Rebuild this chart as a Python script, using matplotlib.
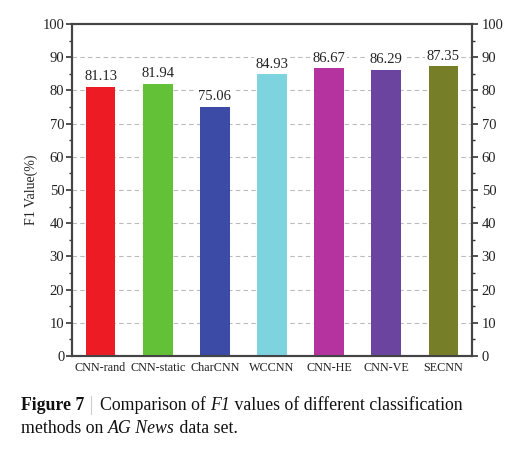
import numpy as np
import matplotlib
matplotlib.use("Agg")
import matplotlib.pyplot as plt
from matplotlib.ticker import MultipleLocator

methods = ['CNN-rand', 'CNN-static', 'CharCNN', 'WCCNN', 'CNN-HE', 'CNN-VE', 'SECNN']
f1_values = [81.13, 81.94, 75.06, 84.93, 86.67, 86.29, 87.35]
bar_colors = ['#ED1C24', '#62C136', '#3B4BA6', '#7DD4DF', '#B5339E', '#6A449E', '#767F27']

plt.rcParams['font.family'] = ['Liberation Serif', 'DejaVu Serif']

fig = plt.figure(figsize=(5.08, 4.5), dpi=100)
ax = fig.add_axes([72/508, 1 - 356/450, 400/508, 332/450])

x = np.arange(len(methods))
bars = ax.bar(x, f1_values, width=0.52, color=bar_colors, zorder=3)
for rect, v in zip(bars, f1_values):
    ax.annotate('{:.2f}'.format(v),
                xy=(rect.get_x() + rect.get_width() / 2, v),
                xytext=(0, 2.5), textcoords="offset points",
                ha='center', va='bottom', fontsize=10.5, color='#222222', zorder=4,
                bbox=dict(boxstyle='square,pad=0.1', fc='white', ec='none'))

ax.set_xlim(-0.5, len(methods) - 0.5)
ax.set_ylim(0, 100)
ax.set_xticks(x)
ax.set_xticklabels(methods, fontsize=8.7, color='#222222')
ax.tick_params(axis='x', length=0, pad=4)
ax.yaxis.set_major_locator(MultipleLocator(10))
ax.yaxis.set_minor_locator(MultipleLocator(5))
ax.tick_params(axis='y', which='major', direction='out', length=4, width=1.2, pad=1.5,
               labelsize=10.5, colors='#333333', labelcolor='#222222')
ax.tick_params(axis='y', which='minor', direction='out', length=2.5, width=1.0,
               colors='#333333')
ax.yaxis.grid(True, linestyle=(0, (4, 3)), color='#bbbbbb', linewidth=0.8, zorder=0)
ax.set_axisbelow(True)
ax.set_ylabel('F1 Value(%)', fontsize=10, color='#222222', labelpad=3)

ax2 = ax.twinx()
ax2.set_ylim(0, 100)
ax2.yaxis.set_major_locator(MultipleLocator(10))
ax2.yaxis.set_minor_locator(MultipleLocator(5))
ax2.tick_params(axis='y', which='major', direction='out', length=4, width=1.2, pad=3,
                labelsize=10.5, colors='#333333', labelcolor='#222222')
ax2.tick_params(axis='y', which='minor', direction='out', length=2.5, width=1.0,
                colors='#333333')

for a in (ax, ax2):
    for s in a.spines.values():
        s.set_color('#444444')
        s.set_linewidth(1.5)

# caption, written piece by piece so italic words sit inline
renderer = fig.canvas.get_renderer()

def caption_line(x0, y, pieces):
    xpos = x0
    for txt, style, weight in pieces:
        t = fig.text(xpos / 508, 1 - y / 450, txt, fontsize=12.8, fontstyle=style,
                     fontweight=weight, va='baseline', ha='left', color='#111111')
        xpos += t.get_window_extent(renderer).width

fig.text(21/508, 1 - 410/450, 'Figure 7', fontsize=12.8, fontweight='bold',
         va='baseline', ha='left', color='#111111')
fig.add_artist(plt.Line2D([91/508, 91/508], [1 - 396/450, 1 - 414/450],
                          color='#cccccc', linewidth=0.8))
caption_line(100, 410, [('Comparison of ', 'normal', 'normal'),
                        ('F1', 'italic', 'normal'),
                        (' values of different classification', 'normal', 'normal')])
caption_line(21, 433, [('methods on ', 'normal', 'normal'),
                       ('AG News', 'italic', 'normal'),
                       (' data set.', 'normal', 'normal')])

fig.savefig('out.png', dpi=100)
